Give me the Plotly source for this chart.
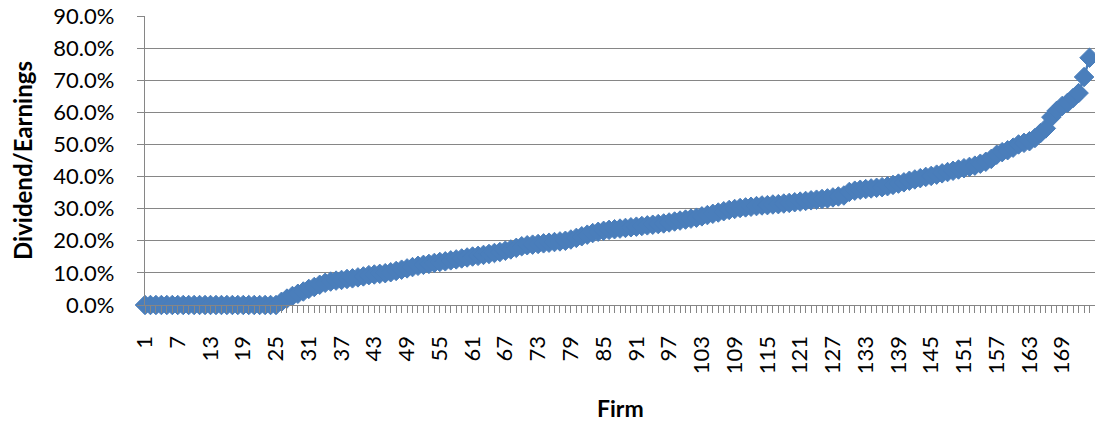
import plotly.graph_objects as go

# Dividend payout ratio per firm, sorted ascending (percent)
payout_pct = [
    0.0, 0.0, 0.0, 0.0, 0.0, 0.0, 0.0, 0.0, 0.0, 0.0,
    0.0, 0.0, 0.0, 0.0, 0.0, 0.0, 0.0, 0.0, 0.0, 0.0,
    0.0, 0.0, 0.0, 0.0, 0.0, 1.0, 2.0, 2.8, 3.5, 4.2,
    5.0, 5.6, 6.3, 6.9, 7.3, 7.6, 7.8, 8.1, 8.3, 8.6,
    8.9, 9.3, 9.5, 9.7, 9.9, 10.2, 10.6, 11.0, 11.4, 11.8,
    12.2, 12.5, 12.8, 13.1, 13.4, 13.6, 13.9, 14.2, 14.5, 14.8,
    15.1, 15.3, 15.6, 15.9, 16.2, 16.5, 16.9, 17.3, 17.8, 18.3,
    18.6, 18.8, 19.0, 19.2, 19.4, 19.6, 19.8, 20.0, 20.4, 20.9,
    21.4, 21.9, 22.4, 22.8, 23.1, 23.4, 23.6, 23.8, 24.0, 24.2,
    24.4, 24.6, 24.8, 25.0, 25.2, 25.4, 25.7, 26.0, 26.3, 26.6,
    26.9, 27.2, 27.6, 28.0, 28.4, 28.8, 29.2, 29.6, 29.9, 30.2,
    30.4, 30.6, 30.8, 31.0, 31.1, 31.3, 31.4, 31.6, 31.8, 32.0,
    32.2, 32.4, 32.6, 32.8, 33.0, 33.2, 33.5, 33.8, 34.1, 35.2,
    35.6, 35.9, 36.1, 36.3, 36.5, 36.7, 37.0, 37.4, 37.8, 38.2,
    38.7, 39.1, 39.5, 39.9, 40.2, 40.6, 41.0, 41.4, 41.8, 42.2,
    42.6, 43.0, 43.4, 44.0, 44.6, 45.5, 46.8, 47.6, 48.2, 49.0,
    50.0, 50.5, 51.0, 52.0, 53.5, 55.0, 58.5, 60.5, 62.0, 63.0,
    64.5, 66.0, 71.0, 77.0,
]
firms = list(range(1, len(payout_pct) + 1))
payout = [v / 100 for v in payout_pct]

x_tick_firms = list(range(1, 175, 6))
x_tick_labels = [str(f) for f in x_tick_firms]

BLUE = "#4A7EBB"
GRID = "#868686"
FONT = "Lato"

fig = go.Figure(
    go.Scatter(
        x=firms,
        y=payout,
        mode="lines+markers",
        line=dict(color=BLUE, width=2.5),
        marker=dict(symbol="diamond", size=15, color=BLUE,
                    line=dict(color=BLUE, width=1)),
        cliponaxis=False,
        showlegend=False,
    )
)

fig.update_layout(
    width=1095,
    height=424,
    margin=dict(l=145, r=0, t=16, b=119),
    paper_bgcolor="white",
    plot_bgcolor="white",
    font=dict(family=FONT, color="black", size=22),
    xaxis=dict(
        range=[1, 175],
        tickmode="array",
        tickvals=x_tick_firms,
        ticktext=x_tick_labels,
        tickangle=-90,
        ticks="outside",
        ticklen=7,
        tickcolor=GRID,
        tickwidth=1.3,
        minor=dict(dtick=1, tick0=1, ticks="outside", ticklen=7,
                   tickcolor=GRID, tickwidth=1.3, showgrid=False),
        showgrid=False,
        zeroline=False,
        showline=True,
        linecolor=GRID,
        linewidth=1.3,
        ticklabelstandoff=14,
        tickfont=dict(size=22, family=FONT),
    ),
    yaxis=dict(
        range=[0, 0.9],
        dtick=0.1,
        tickformat=".1%",
        ticks="outside",
        ticklen=7,
        tickcolor=GRID,
        tickwidth=1.3,
        showgrid=True,
        gridcolor=GRID,
        gridwidth=1.3,
        zeroline=False,
        showline=True,
        linecolor=GRID,
        linewidth=1.3,
        ticklabelstandoff=18,
        tickfont=dict(size=22, family=FONT),
    ),
    annotations=[
        dict(text="<b>Dividend/Earnings</b>", textangle=-90,
             xref="paper", yref="paper", x=(22.5 - 145) / 950, y=0.5,
             xanchor="center", yanchor="middle", showarrow=False,
             font=dict(size=24, family=FONT)),
        dict(text="<b>Firm</b>",
             xref="paper", yref="paper", x=0.5, y=(305 - 408) / 289,
             xanchor="center", yanchor="middle", showarrow=False,
             font=dict(size=23, family=FONT)),
    ],
)

fig.write_html("out.html")
